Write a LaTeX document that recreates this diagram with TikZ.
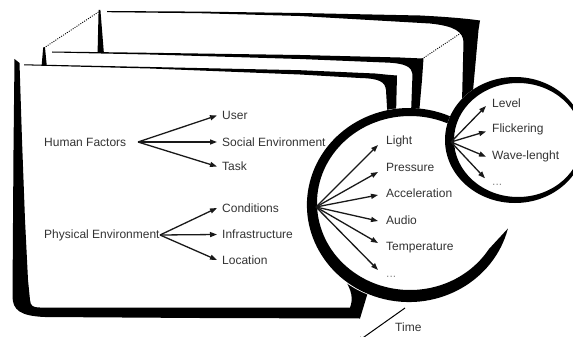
\documentclass[tikz,border=0pt]{standalone}
\usepackage{fontspec}
\setmainfont{Liberation Sans}
\usetikzlibrary{arrows.meta,calc}
\begin{document}
\begin{tikzpicture}[x=1pt,y=-1pt,
  lbl/.style={inner sep=0pt, anchor=west, text height=8.6pt, text depth=0pt,
              font=\fontsize{12pt}{14pt}\selectfont, text=black!80},
  more/.style={lbl, text=black!45},
  fan/.style={line width=1.3pt, black!90, -{Triangle[length=7pt,width=5pt]}},
  dots/.style={line width=0.9pt, dash pattern=on 1pt off 1.3pt}]
\useasboundingbox (0,0) rectangle (573,337);

% ---------- back frame ----------
\fill (107,11) -- (200,11.6) -- (300,13) -- (420,15.5)
  .. controls (450,17) and (470,19) .. (480,20.5) -- (478.5,30) -- (472,102)
  -- (462,102) -- (463.5,42) .. controls (463,32) and (455,26) .. (430,23.5)
  -- (300,16) -- (200,13.2) -- (107,12.2) -- cycle;
\fill (98.6,10) -- (100.4,10) -- (103.8,52) -- (97.6,52) -- cycle;

% ---------- middle frame ----------
\fill (52,51.5) -- (150,52.8) -- (300,55) -- (400,57.5)
  .. controls (410,58) and (418,58.3) .. (423.5,58.5) -- (422,80) -- (419,114)
  -- (411,114) -- (412.5,74) .. controls (412,67) and (405,63) .. (385,62.5)
  -- (300,59) -- (150,54.5) -- (52,52.5) -- cycle;
\fill (43.2,47.5) -- (45,47.5) -- (46.8,66) -- (41.6,66) -- cycle;

% ---------- front frame ----------
\fill (24,64.3) -- (150,67) -- (300,70.2) -- (375,73.5)
  .. controls (385,74.5) and (392,75.2) .. (397,75.5) -- (396.5,95) -- (396,116)
  -- (387.5,116) -- (386,90) .. controls (385,82) and (380,78.5) .. (360,78)
  -- (300,74.5) -- (150,68.5) -- (24,65.3) -- cycle;
% left post and base bar
\fill (14.5,59) -- (19.5,63) -- (22,140) -- (25,220) -- (28,280) -- (30,300)
  .. controls (30.5,306) and (33,307.5) .. (40,307.5) -- (350,307.5)
  .. controls (353,300) and (353,290) .. (342,276) -- (372,286) -- (368,292)
  -- (360,318.5) -- (200,318) -- (45,317)
  .. controls (20,316) and (12.5,310) .. (12.5,296) -- (13.5,150) -- cycle;

% dotted links between the frame corners
\coordinate (bl) at (98.5,12);
\coordinate (ml) at (44.3,47.7);
\coordinate (br) at (461,33);
\coordinate (mr) at (420.5,60);
\draw[dots] (bl) -- (ml);
\draw[dots] (br) -- (mr);

% ---------- large lens ----------
\fill[white] (407,205) ellipse [x radius=102, y radius=97];
\fill (507.9,228.5) arc[start angle=14, end angle=310, x radius=102, y radius=97]
  -- (469.78,136.36) arc[start angle=310, end angle=32, x radius=93, y radius=87]
  -- cycle;

% ---------- small lens ----------
\fill[white] (515,140) ellipse [x radius=70, y radius=63];
\fill[even odd rule] (515,140) ellipse [x radius=70, y radius=63]
  (518,140) ellipse [x radius=64, y radius=57];

% ---------- human factors ----------
\node[lbl] (hf) at (44,142) {Human Factors};
\coordinate (hfo) at (138,142);
\node[lbl] (user) at (222,115.5) {User};
\node[lbl] (soc) at (222,142) {Social Environment};
\node[lbl] (task) at (222,166.5) {Task};
\draw[fan] (hfo) -- ([shift={(-5,0)}]user.west);
\draw[fan] (hfo) -- ([shift={(-5,0)}]soc.west);
\draw[fan] (hfo) -- ([shift={(-5,0)}]task.west);

% ---------- physical environment ----------
\node[lbl] (pe) at (44,234.5) {Physical Environment};
\coordinate (peo) at (160,235);
\node[lbl] (cond) at (222,208) {Conditions};
\node[lbl] (infra) at (222,234.5) {Infrastructure};
\node[lbl] (loc) at (222,260) {Location};
\draw[fan] (peo) -- ([shift={(-5,0)}]cond.west);
\draw[fan] (peo) -- ([shift={(-5,0)}]infra.west);
\draw[fan] (peo) -- ([shift={(-5,0)}]loc.west);

% ---------- conditions lens ----------
\coordinate (bco) at (316,207);
\node[lbl] (light) at (386,140) {Light};
\node[lbl] (press) at (386,167) {Pressure};
\node[lbl] (acc) at (386,193.5) {Acceleration};
\node[lbl] (audio) at (386,220) {Audio};
\node[lbl] (temp) at (386,246) {Temperature};
\node[more] (cmore) at (386,272.7) {...};
\draw[fan] (bco) -- ([shift={(-8,5)}]light.west);
\draw[fan] (bco) -- ([shift={(-8,5)}]press.west);
\draw[fan] (bco) -- ([shift={(-8,1.5)}]acc.west);
\draw[fan] (bco) -- ([shift={(-8,1)}]audio.west);
\draw[fan] (bco) -- ([shift={(-8,-3)}]temp.west);
\draw[fan] (bco) -- ([shift={(-8,-2.7)}]cmore.west);

% ---------- light lens ----------
\coordinate (sco) at (451,142);
\node[lbl] (level) at (492,103) {Level};
\node[lbl] (flick) at (492,128.5) {Flickering};
\node[lbl] (wave) at (492,155) {Wave-lenght};
\node[more] (lmore) at (492,181) {...};
\draw[fan] (sco) -- ([shift={(-6,3)}]level.west);
\draw[fan] (sco) -- ([shift={(-6,3)}]flick.west);
\draw[fan] (sco) -- ([shift={(-6,1.7)}]wave.west);
\draw[fan] (sco) -- ([shift={(-7,-2.7)}]lmore.west);

% ---------- time axis ----------
\node[lbl] (time) at (395,327) {Time};
\coordinate (t1) at (405,308);
\coordinate (t2) at (357,342);
\draw[line width=1pt, -{Triangle[length=6pt,width=4.5pt]}] (t1) -- (t2);
\end{tikzpicture}
\end{document}
